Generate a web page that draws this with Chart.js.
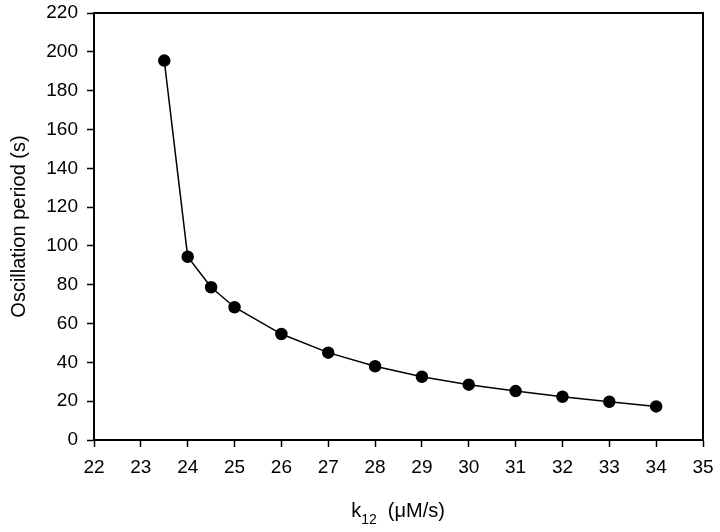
<!DOCTYPE html>
<html>
<head>
<meta charset="utf-8">
<script src="https://cdn.jsdelivr.net/npm/chart.js@4"></script>
<style>
  html, body { margin: 0; padding: 0; background: #fff; }
  #wrap { width: 720px; height: 532px; }
</style>
</head>
<body>
<div id="wrap"><canvas id="period-chart"></canvas></div>
<script>
/* k12 vs oscillation period */

const k12 = [23.5, 24, 24.5, 25, 26, 27, 28, 29, 30, 31, 32, 33, 34];
const period = [195.5, 94.4, 78.7, 68.4, 54.6, 45, 38, 32.6, 28.5, 25.2, 22.3, 19.7, 17.3];
const xTicks = [22, 23, 24, 25, 26, 27, 28, 29, 30, 31, 32, 33, 34, 35];
const yTicks = [0, 20, 40, 60, 80, 100, 120, 140, 160, 180, 200, 220];

const family = '"Liberation Sans", Arial, sans-serif';
const tickFont = { family: family, size: 19 };

// box round the plot area, plus the x title with a real subscript
const frame = {
    id: 'frame',
    afterDraw(chart) {
        const a = chart.chartArea;
        const ctx = chart.ctx;
        ctx.save();
        ctx.strokeStyle = '#000';
        ctx.lineWidth = 2;
        ctx.strokeRect(a.left, a.top, a.right - a.left, a.bottom - a.top);

        ctx.fillStyle = '#000';
        ctx.textBaseline = 'alphabetic';
        ctx.textAlign = 'left';
        const main = '20px ' + family;
        const sub = '14px ' + family;
        const parts = [['k', main, 0], ['12', sub, 7], ['  (\u03bcM/s)', main, 0]];
        let w = 0;
        parts.forEach(p => { ctx.font = p[1]; w += ctx.measureText(p[0]).width; });
        let x = 398 - w / 2;
        const base = 517;
        parts.forEach(p => {
            ctx.font = p[1];
            ctx.fillText(p[0], x, base + p[2]);
            x += ctx.measureText(p[0]).width;
        });
        ctx.restore();
    }
};

new Chart(document.getElementById('period-chart'), {
    type: 'line',
    data: {
        datasets: [{
            data: k12.map((x, i) => ({ x: x, y: period[i] })),
            borderColor: '#000',
            backgroundColor: '#000',
            borderWidth: 1.5,
            pointRadius: 5.5,
            pointHoverRadius: 5.5,
            tension: 0,
            fill: false
        }]
    },
    options: {
        responsive: true,
        maintainAspectRatio: false,
        animation: false,
        layout: { padding: { top: 13, right: 17, left: 0, bottom: 0 } },
        plugins: {
            legend: { display: false },
            tooltip: { enabled: false }
        },
        scales: {
            x: {
                type: 'linear',
                min: 22,
                max: 35,
                afterBuildTicks: axis => { axis.ticks = xTicks.map(v => ({ value: v })); },
                afterFit: axis => {
                    axis.height = 92;
                    axis.paddingLeft = 0;
                    axis.paddingRight = 0;
                },
                grid: { display: true, drawOnChartArea: false, tickLength: 7, tickColor: '#000', tickWidth: 1.5 },
                border: { display: true, color: '#000', width: 2 },
                ticks: { color: '#000', font: tickFont, padding: 9, maxRotation: 0 },
                title: { display: false }
            },
            y: {
                min: 0,
                max: 220,
                afterBuildTicks: axis => { axis.ticks = yTicks.map(v => ({ value: v })); },
                afterFit: axis => {
                    axis.width = 94;
                    axis.paddingTop = 0;
                    axis.paddingBottom = 0;
                },
                grid: { display: true, drawOnChartArea: false, tickLength: 7, tickColor: '#000', tickWidth: 1.5 },
                border: { display: true, color: '#000', width: 2 },
                ticks: { color: '#000', font: tickFont, padding: 9 },
                title: {
                    display: true,
                    text: 'Oscillation period (s)',
                    color: '#000',
                    font: { family: family, size: 20 },
                    padding: { top: 7, bottom: 0 }
                }
            }
        }
    },
    plugins: [frame]
});
</script>
</body>
</html>
